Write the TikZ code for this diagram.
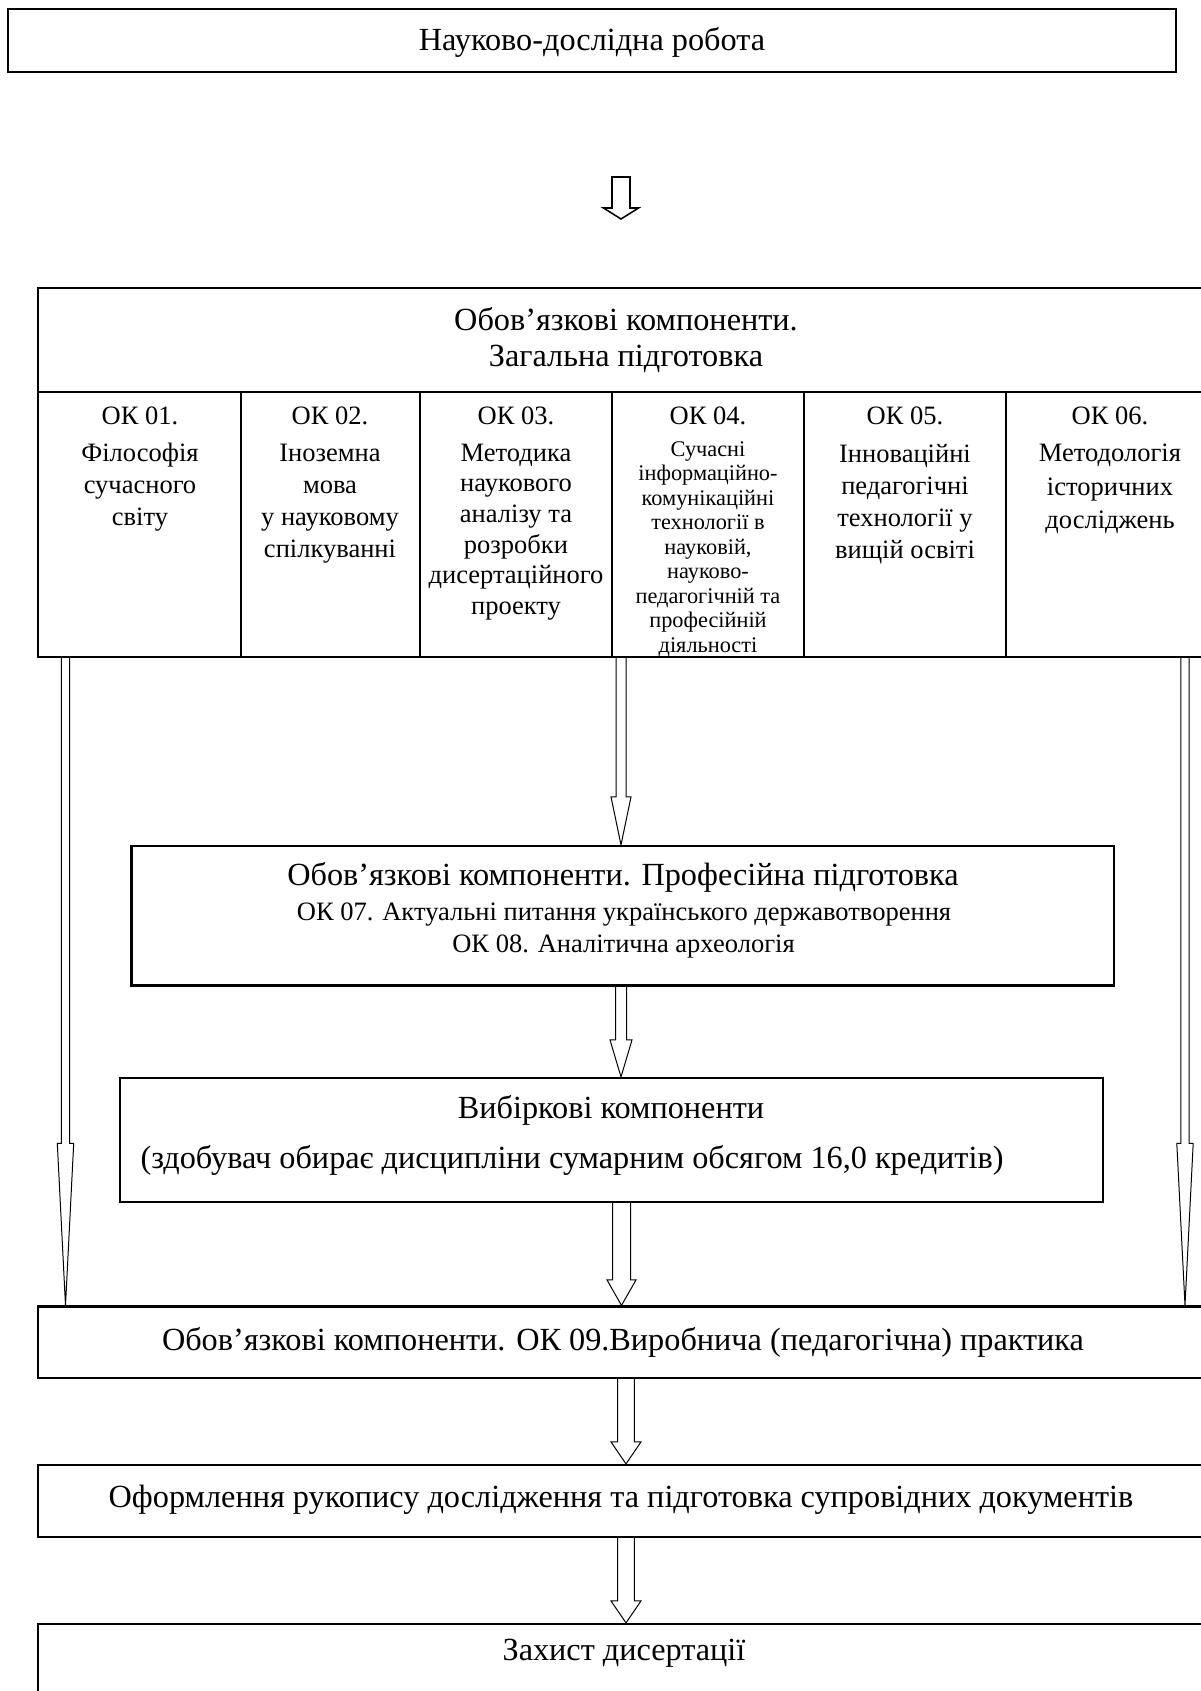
\documentclass[tikz,border=0pt]{standalone}
\usepackage{fontspec}
\setmainfont{Liberation Serif}
\usetikzlibrary{calc}
\def\px{0.4525pt}
\newcommand\fA{\fontsize{14.6}{16.3}\selectfont}
\newcommand\fB{\fontsize{12}{13.8}\selectfont}
\newcommand\fC{\fontsize{10.1}{11.1}\selectfont}
\tikzset{
  x=0.4525pt, y=-0.4525pt,
  box/.style={draw, line width=1pt, inner sep=0pt},
  txt/.style={inner sep=0pt, align=center},
  divider/.style={line width=0.8pt},
  arrowline/.style={draw, line width=0.45pt, line join=miter},
}
% name, x1, y1, x2, y2
\newcommand\boxnode[5]{%
  \node[box, minimum width={(#4-#2)*\px}, minimum height={(#5-#3)*\px}]
    (#1) at ({(#2+#4)/2},{(#3+#5)/2}) {};}
% source node, target node, x coordinate, shaft half, head half, head length
\newcommand\blockarrow[6]{%
  \draw[arrowline] let \p1=(#1.south -| #3), \p2=(#2.north -| #3) in
    (\x1-#4*\px,\y1) -- (\x1-#4*\px,\y2+#6*\px) -- (\x1-#5*\px,\y2+#6*\px)
    -- (\x2,\y2) -- (\x1+#5*\px,\y2+#6*\px) -- (\x1+#4*\px,\y2+#6*\px)
    -- (\x1+#4*\px,\y1);}
\begin{document}
\begin{tikzpicture}
\useasboundingbox (0,0) rectangle (1201,1691);
% boxes
\boxnode{top}{8}{9}{1176}{72}
\boxnode{main}{38}{288}{1214}{657}
\boxnode{prof}{131.5}{846}{1114}{985.5}
\boxnode{vyb}{120}{1078}{1103}{1202}
\boxnode{prac}{38}{1306.5}{1210}{1378}
\boxnode{oform}{38}{1465}{1210}{1537}
\boxnode{zakh}{38}{1624}{1210}{1694}
% single-line box texts
\node[txt, font=\fA] (toptxt) at (592,42) {Науково-дослідна робота};
\node[txt, font=\fA] (practxt) at (623,1342) {Обов’язкові компоненти. ОК 09.Виробнича (педагогічна) практика};
\node[txt, font=\fA] (oformtxt) at (621,1500) {Оформлення рукопису дослідження та підготовка супровідних документів};
\node[txt, font=\fA] (zakhtxt) at (624,1653) {Захист дисертації};
% header of main box
\draw[line width=1pt] (main.west |- 0,392) -- (main.east |- 0,392);
\node[txt, font=\fA] (hdr) at (626,340) {Обов’язкові компоненти.\\ Загальна підготовка};
% column dividers
\foreach \cx in {241,420,612,804,1006}
  \draw[divider] (\cx,392) -- (\cx,657);
% column titles
\node[txt, font=\fB] (c1t) at (140,416) {ОК 01.};
\node[txt, font=\fB] (c2t) at (330,416) {ОК 02.};
\node[txt, font=\fB] (c3t) at (516,416) {ОК 03.};
\node[txt, font=\fB] (c4t) at (708,416) {ОК 04.};
\node[txt, font=\fB] (c5t) at (905,416) {ОК 05.};
\node[txt, font=\fB] (c6t) at (1110,416) {ОК 06.};
% column bodies
\node[txt, font={\fontsize{12}{14.4}\selectfont}] (c1b) at (140,487) {Філософія\\сучасного\\світу};
\node[txt, font={\fontsize{12}{14.5}\selectfont}] (c2b) at (330,504) {Іноземна\\мова\\у науковому\\спілкуванні};
\node[txt, font={\fontsize{12}{13.9}\selectfont}] (c3b) at (516,532) {Методика\\наукового\\аналізу та\\розробки\\дисертаційного\\проекту};
\node[txt, font=\fC] (c4b) at (708,549) {Сучасні\\інформаційно-\\комунікаційні\\технології в\\науковій,\\науково-\\педагогічній та\\професійній\\діяльності};
\node[txt, font={\fontsize{12}{14.4}\selectfont}] (c5b) at (905,504) {Інноваційні\\педагогічні\\технології у\\вищій освіті};
\node[txt, font={\fontsize{12}{15.1}\selectfont}] (c6b) at (1110,489) {Методологія\\історичних\\досліджень};
% professional box texts
\node[txt, font=\fA] (p1) at (623,877) {Обов’язкові компоненти. Професійна підготовка};
\node[txt, font=\fB] (p2) at (624,915) {ОК 07. Актуальні питання українського державотворення};
\node[txt, font=\fB] (p3) at (623.5,946) {ОК 08. Аналітична археологія};
% elective box texts
\node[txt, font=\fA] (v1) at (611,1110) {Вибіркові компоненти};
\node[txt, font=\fA] (v2) at (572,1160) {(здобувач обирає дисципліни сумарним обсягом 16,0 кредитів)};
% arrow x positions
\coordinate (xa) at (621,0);
\coordinate (xb) at (621.5,0);
\coordinate (xc) at (626,0);
\coordinate (xl) at (65.5,0);
\coordinate (xr) at (1185,0);
% small arrow between top box and main box
\coordinate (sa) at (621,177);
\draw[line width=0.7pt, line join=miter] ($(sa)+(-9,0)$) -- ($(sa)+(-9,31)$) -- ($(sa)+(-17.5,31)$)
  -- ($(sa)+(0,42)$) -- ($(sa)+(17.5,31)$) -- ($(sa)+(9,31)$) -- ($(sa)+(9,0)$) -- cycle;
% connectors
\blockarrow{main}{prof}{xa}{5}{10}{48}
\blockarrow{prof}{vyb}{xa}{5.5}{11}{37}
\blockarrow{vyb}{prac}{xb}{9}{14.5}{25.5}
\blockarrow{prac}{oform}{xc}{8.4}{15}{22}
\blockarrow{oform}{zakh}{xc}{8.4}{15}{22}
\blockarrow{main}{prac}{xl}{4.2}{8.2}{162}
\blockarrow{main}{prac}{xr}{4.2}{8.2}{162}
\end{tikzpicture}
\end{document}
